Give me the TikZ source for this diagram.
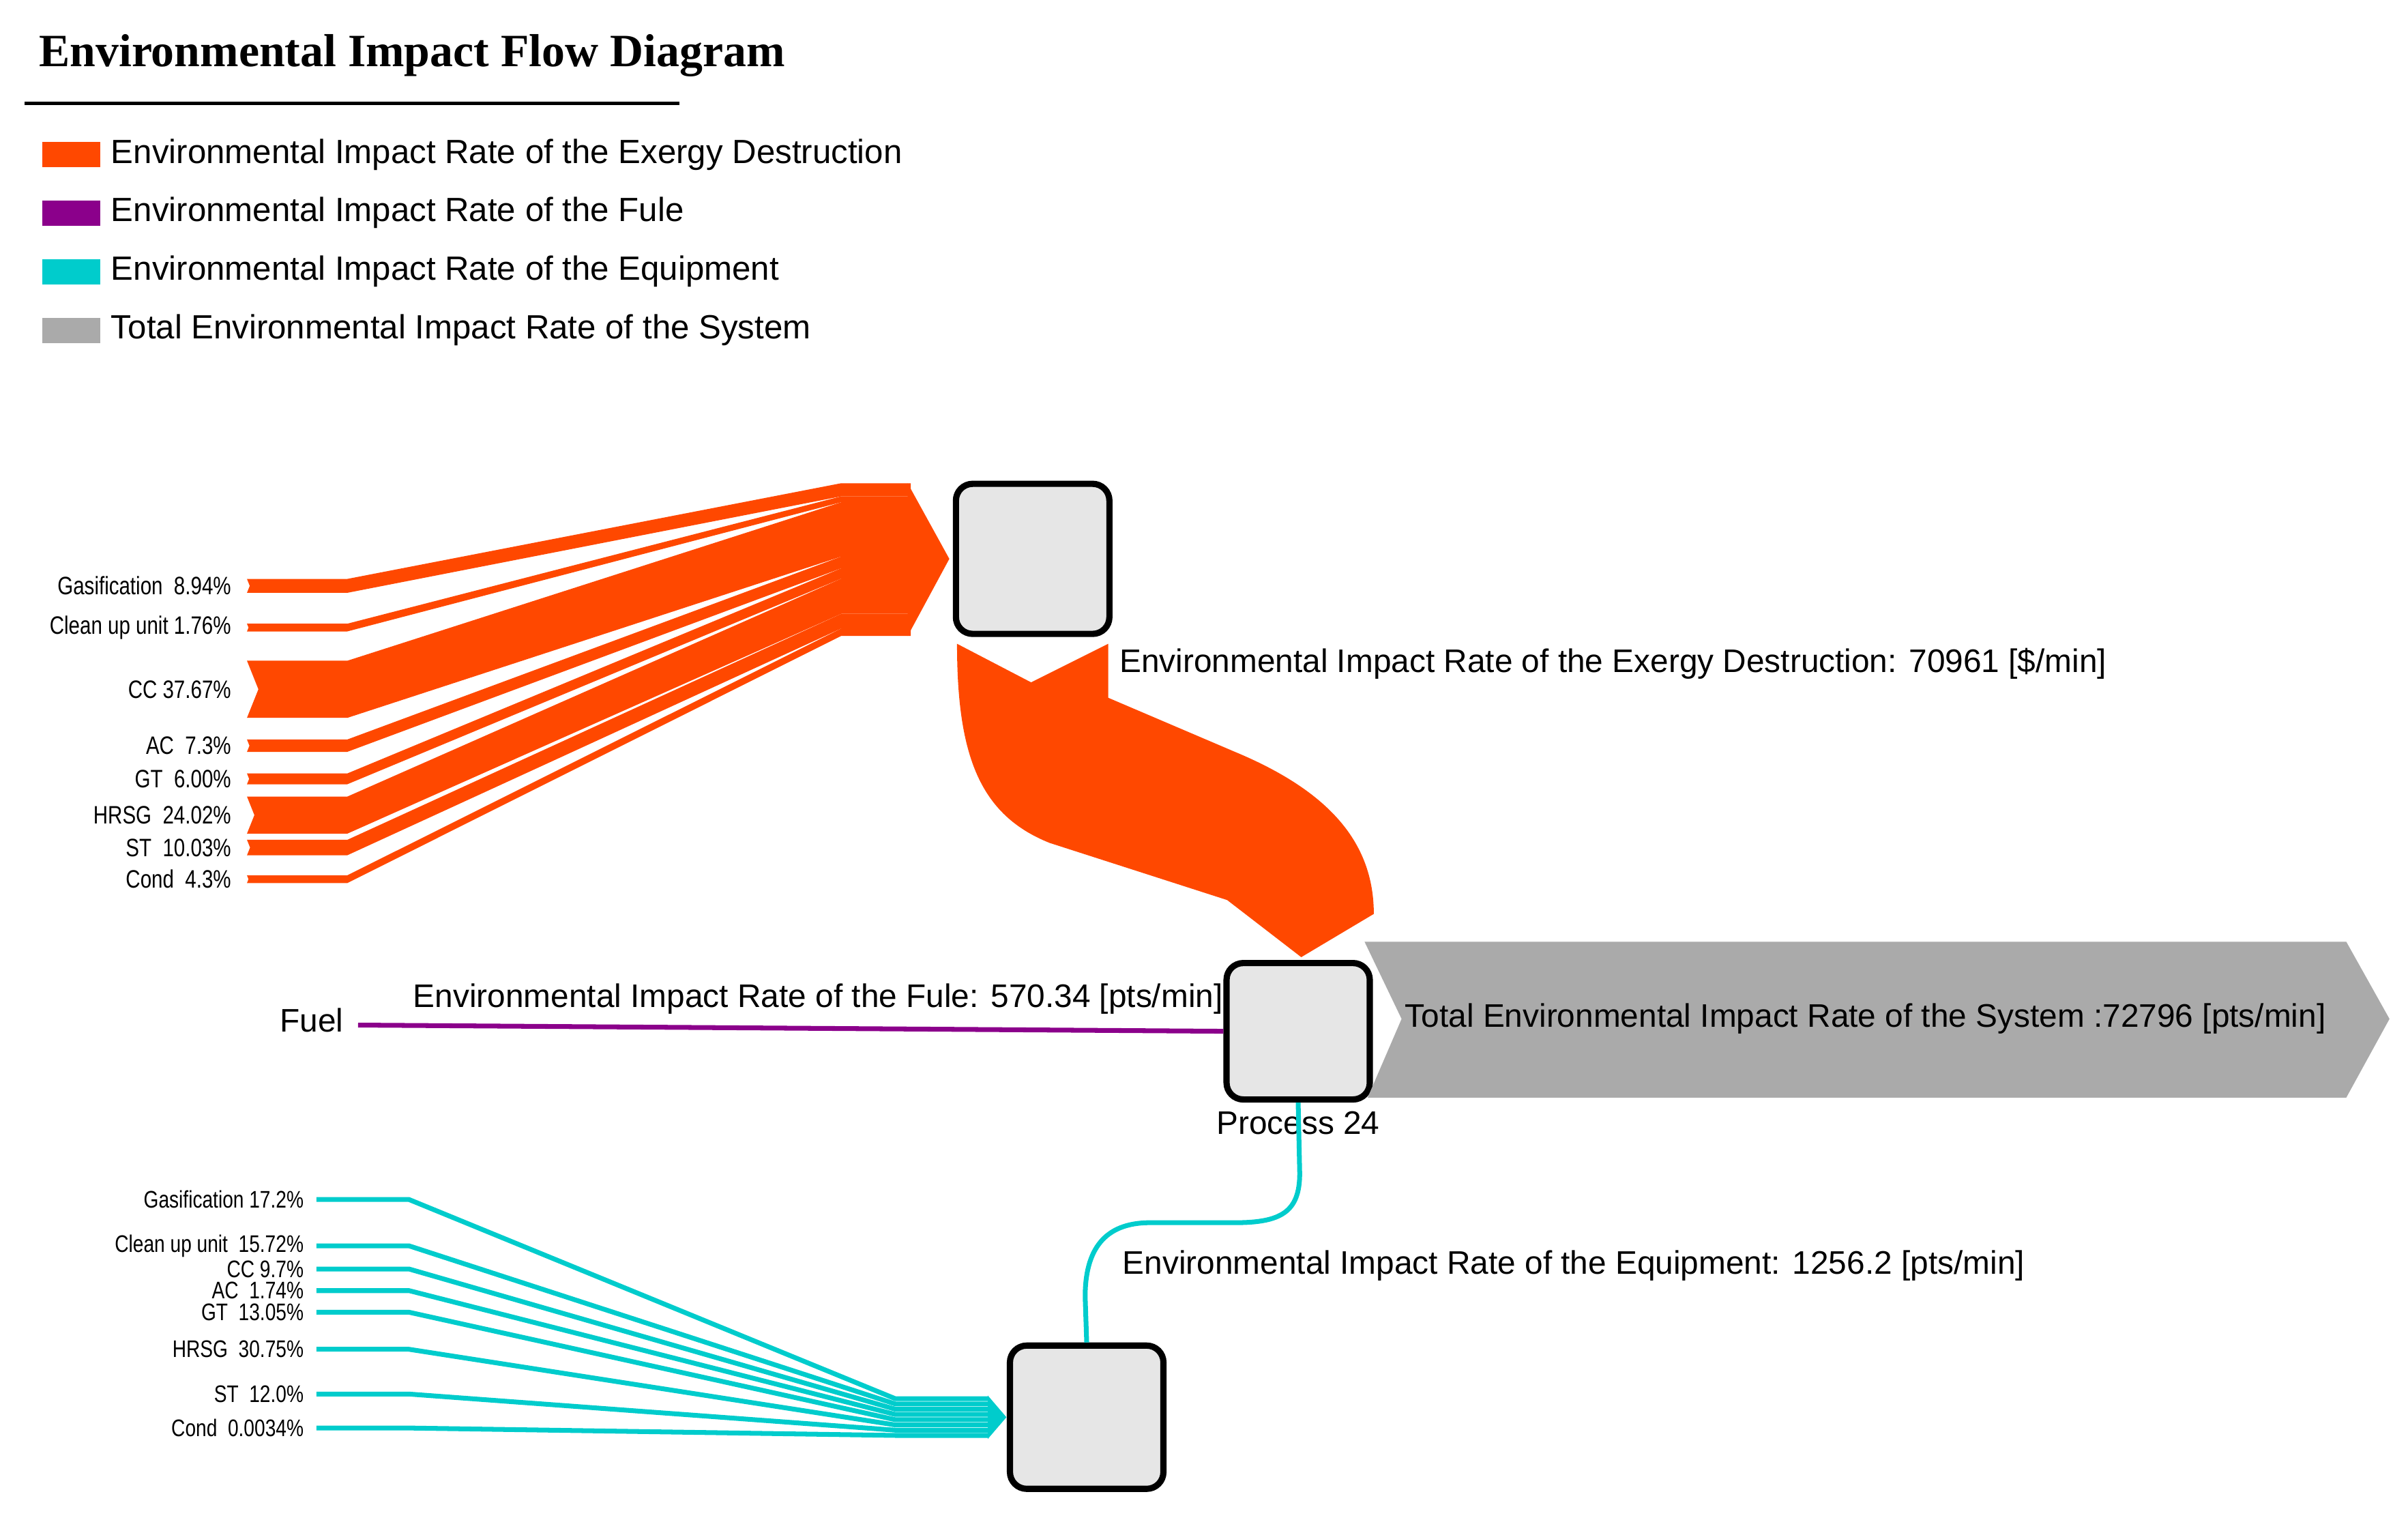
\documentclass[tikz,border=0pt]{standalone}
\usepackage{fontspec}
\setmainfont{Liberation Sans}
\newfontfamily\titlefont{Liberation Serif}
\newfontfamily\narrowfont{Liberation Sans}[FakeStretch=0.8]
\usetikzlibrary{positioning,calc}
\definecolor{exorange}{RGB}{255,72,0}
\definecolor{fuelpurple}{RGB}{139,0,139}
\definecolor{eqcyan}{RGB}{0,204,204}
\definecolor{sysgray}{RGB}{170,170,170}
\definecolor{boxgray}{RGB}{230,230,230}
\tikzset{
    process/.style={
        draw=black,
        line width=2.6pt,
        fill=boxgray,
        rectangle,
        rounded corners=7pt,
        minimum width=2.1cm,
        minimum height=2.0cm
    },
    swatch/.style={
        rectangle,
        minimum width=0.85cm,
        minimum height=0.37cm,
        inner sep=0pt
    },
    legend/.style={
        anchor=west,
        font=\fontsize{14}{16}\selectfont,
        inner sep=0pt
    },
    flowlabel/.style={
        anchor=east,
        font=\narrowfont\fontsize{10.5}{12}\selectfont,
        inner sep=0pt
    },
    ratelabel/.style={
        font=\fontsize{13.6}{16}\selectfont,
        inner sep=0pt
    },
}
\begin{document}
\begin{tikzpicture}[x=0.02263cm, y=-0.02263cm]
    \useasboundingbox (0,0) rectangle (1560,993);

    % title and legend
    \node[anchor=west, inner sep=0pt, font=\titlefont\bfseries\fontsize{19.3}{22}\selectfont] (title) at (25,36) {Environmental Impact Flow Diagram};
    \draw[line width=1.4pt] (16,67) -- (440,67);
    \node[swatch, fill=exorange] (swD) at (46,100) {};
    \node[swatch, fill=fuelpurple] (swF) at (46,138) {};
    \node[swatch, fill=eqcyan] (swE) at (46,176) {};
    \node[swatch, fill=sysgray] (swS) at (46,214) {};
    \node[legend, right=0.15cm of swD] {Environmental Impact Rate of the Exergy Destruction};
    \node[legend, right=0.15cm of swF] {Environmental Impact Rate of the Fule};
    \node[legend, right=0.15cm of swE] {Environmental Impact Rate of the Equipment};
    \node[legend, right=0.15cm of swS] {Total Environmental Impact Rate of the System};

    % exergy destruction inputs
    \foreach \lt/\lb/\rt/\rb/\lab in {
        375/384/313/321.5/{Gasification\ \ 8.94\%},
        404/409/321.5/325.3/{Clean up unit 1.76\%},
        428/465/325.3/360.5/{CC 37.67\%},
        479/487/360.5/368.1/{AC\ \ 7.3\%},
        501/508/368.1/374.8/{GT\ \ 6.00\%},
        516/540/374.8/397.6/{HRSG\ \ 24.02\%},
        544/554/397.6/407.1/{ST\ \ 10.03\%},
        567/572/407.1/411.9/{Cond\ \ 4.3\%}}{
        \fill[exorange] (160,\lt) -- (225,\lt) -- (545,\rt) -- (590,\rt)
            -- (590,\rb) -- (545,\rb) -- (225,\lb) -- (160,\lb)
            -- ({160+0.2*(\lb-\lt)},{(\lt+\lb)/2}) -- cycle;
        \node[flowlabel] at (150,{(\lt+\lb)/2}) {\lab};
    }
    \fill[exorange] (588,313) -- (615,362) -- (588,412) -- cycle;

    % process boxes
    \node[process, minimum width=2.25cm, minimum height=2.2cm] (destr) at (669,362) {};
    \node[process] (proc) at (841,668) {};
    \node[process, minimum width=2.25cm, minimum height=2.1cm] (equip) at (704,918) {};
    \node[below=0.12cm of proc, ratelabel] (procname) {Process 24};

    % exergy destruction to process
    \fill[exorange] (620,417) -- (668,442) -- (718,417) -- (718,452) -- (800,487)
        .. controls (860,512) and (890,545) .. (890,592) -- (843,620) -- (795,583)
        -- (680,546) .. controls (635,528) and (620,490) .. cycle;
    \node[ratelabel, anchor=west] at (725,430) {Environmental Impact Rate of the Exergy Destruction: 70961 [\$/min]};

    % fuel
    \node[ratelabel] (fuel) at (202,661) {Fuel};
    \draw[fuelpurple, line width=2pt] (232,664) -- (proc.west);
    \node[ratelabel] at (530,647) {Environmental Impact Rate of the Fule: 570.34 [pts/min]};

    % system total
    \fill[sysgray] (884,610) -- (1520,610) -- (1548,660) -- (1520,711) -- (886,711) -- (908,660) -- cycle;
    \node[ratelabel, anchor=west] at (910,660) {Total Environmental Impact Rate of the System :72796 [pts/min]};

    % equipment inputs
    \foreach \y/\i/\lab in {
        777/0/{Gasification 17.2\%},
        807/1/{Clean up unit\ \ 15.72\%},
        822/2/{CC 9.7\%},
        836/3/{AC\ \ 1.74\%},
        850/4/{GT\ \ 13.05\%},
        874/5/{HRSG\ \ 30.75\%},
        903/6/{ST\ \ 12.0\%},
        925/7/{Cond\ \ 0.0034\%}}{
        \draw[eqcyan, line width=2pt] (205,\y) -- (265,\y) -- (580,{906+3.4*\i}) -- (640,{906+3.4*\i});
        \node[flowlabel, font=\narrowfont\fontsize{10}{12}\selectfont] at (197,\y) {\lab};
    }
    \fill[eqcyan] (640,904) -- (652,918) -- (640,932) -- cycle;

    % equipment to process
    \draw[eqcyan, line width=2pt] (proc.south) -- (842,760) .. controls (842,785) and (830,792) .. (800,792)
        -- (745,792) .. controls (715,792) and (703,810) .. (703,840) -- (equip.north);
    \node[ratelabel, anchor=west] at (727,820) {Environmental Impact Rate of the Equipment: 1256.2 [pts/min]};
\end{tikzpicture}
\end{document}
